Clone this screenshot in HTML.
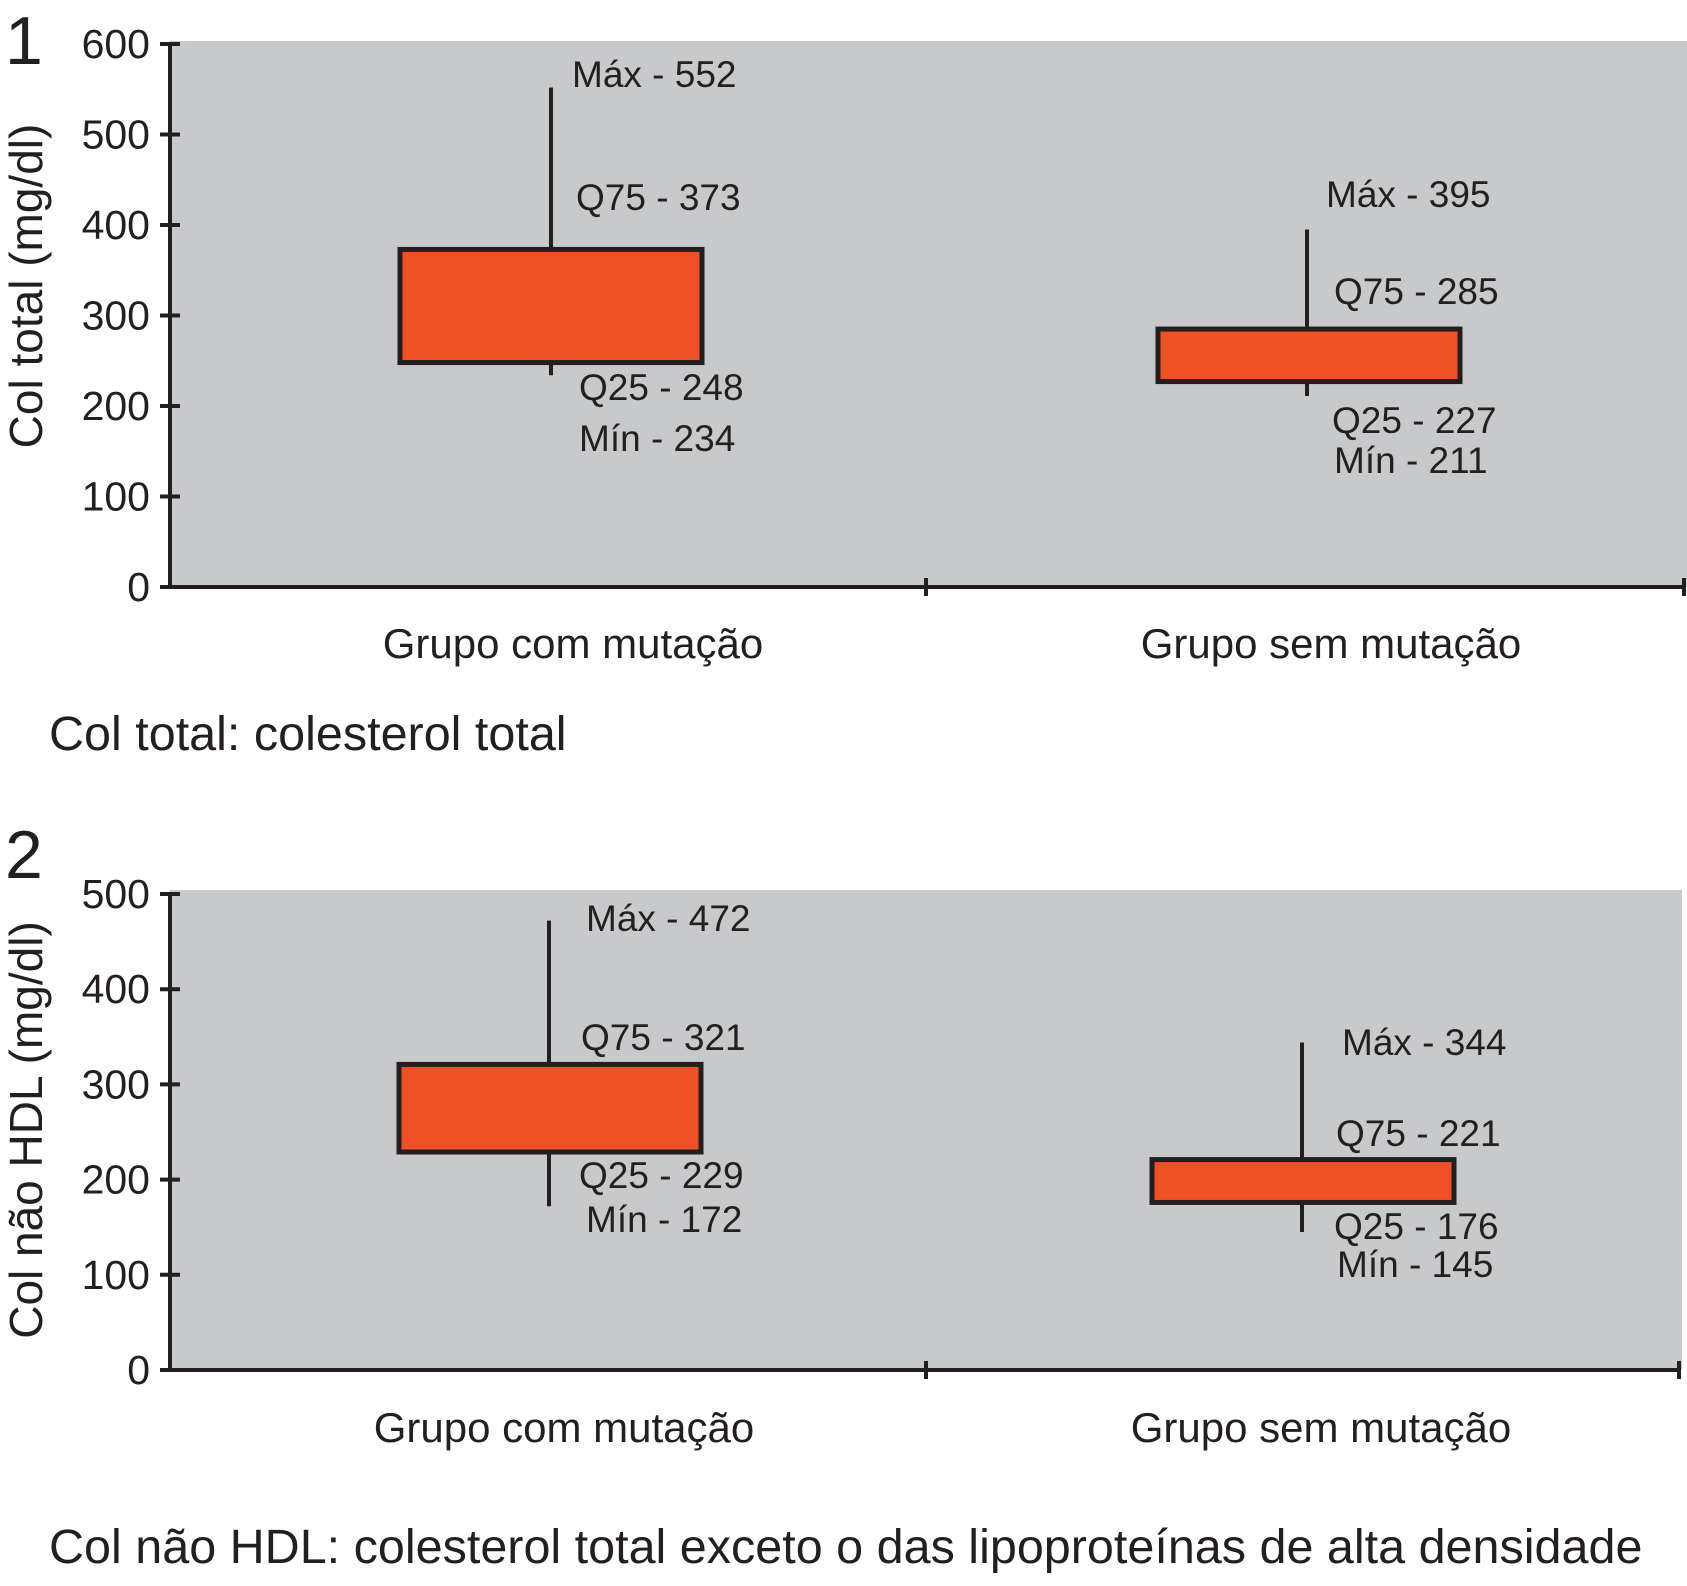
<!DOCTYPE html>
<html><head><meta charset="utf-8"><style>
html,body{margin:0;padding:0;background:#fff;}
svg{display:block;font-family:"Liberation Sans",Arial,sans-serif;}
</style></head><body>
<svg id="fig" width="1687" height="1586" viewBox="0 0 1687 1586" xmlns="http://www.w3.org/2000/svg"></svg>
<script>
const categories = ["Grupo com mutação", "Grupo sem mutação"];
const c1Min = [234, 211];
const c1Q25 = [248, 227];
const c1Q75 = [373, 285];
const c1Max = [552, 395];
const c1Ticks = [0, 100, 200, 300, 400, 500, 600];
const c2Min = [172, 145];
const c2Q25 = [229, 176];
const c2Q75 = [321, 221];
const c2Max = [472, 344];
const c2Ticks = [0, 100, 200, 300, 400, 500];

const NS = "http://www.w3.org/2000/svg";
const svg = document.getElementById('fig');
function mk(tag, attrs, parent){
  const e = document.createElementNS(NS, tag);
  for (const k in attrs) e.setAttribute(k, attrs[k]);
  (parent||svg).appendChild(e);
  return e;
}

function chart(cfg){
  const g = mk('g', {});
  
  
  const yMax = cfg.ticks[cfg.ticks.length-1];
  const y = v => cfg.y0 - (v / yMax) * (cfg.y0 - cfg.yTop);
  const bg = mk('rect', {x: cfg.axX, y: cfg.bgTop, width: cfg.bgRight - cfg.axX, height: cfg.y0 - cfg.bgTop, fill: '#c8c9cb'}, g);
  
  
  const ya = mk('line', {x1: cfg.axX, y1: y(yMax), x2: cfg.axX, y2: cfg.y0 + 2, stroke: '#231f20', 'stroke-width': 4}, g);
  
  
  cfg.ticks.forEach(t => {
    const tk = mk('line', {x1: cfg.axX - 10, y1: y(t), x2: cfg.axX + 10, y2: y(t), stroke: '#231f20', 'stroke-width': 4}, g);
    
    
    const tl = mk('text', {x: cfg.axX - 20, y: y(t) + 14, 'text-anchor': 'end', 'font-size': 41, fill: '#231f20'}, g);
    tl.textContent = t;
    
    
  });
  const xa = mk('line', {x1: cfg.axX, y1: cfg.y0, x2: cfg.axRight, y2: cfg.y0, stroke: '#231f20', 'stroke-width': 4}, g);
  
  
  [cfg.midX, cfg.axRight].forEach(xx => {
    const tk = mk('line', {x1: xx, y1: cfg.y0 - 9, x2: xx, y2: cfg.y0 + 9, stroke: '#231f20', 'stroke-width': 4}, g);
    
    
  });
  const yt = mk('text', {x: 0, y: 0, 'text-anchor': 'middle', 'font-size': 46, fill: '#231f20', transform: `translate(${cfg.titleX},${cfg.titleY}) rotate(-90)`}, g);
  yt.textContent = cfg.yTitle;
  
  
  const pn = mk('text', {x: 5, y: cfg.numY, 'font-size': 68, fill: '#231f20'}, g);
  pn.textContent = cfg.num;
  
  
  categories.forEach((c, i) => {
    const cx = cfg.whiskerX[i];
    const w = mk('line', {x1: cx, y1: y(cfg.max[i]), x2: cx, y2: y(cfg.min[i]), stroke: '#231f20', 'stroke-width': 4}, g);
    
    
    const b = mk('rect', {x: cfg.boxX[i], y: y(cfg.q75[i]), width: 302, height: y(cfg.q25[i]) - y(cfg.q75[i]), fill: '#ef5125', stroke: '#231f20', 'stroke-width': 5}, g);
    
    
    const labs = [['Máx - ', cfg.max[i]], ['Q75 - ', cfg.q75[i]], ['Q25 - ', cfg.q25[i]], ['Mín - ', cfg.min[i]]];
    labs.forEach((l, j) => {
      const p = cfg.labPos[i][j];
      const t = mk('text', {x: p[0], y: p[1] + 13, 'font-size': 37, fill: '#231f20'}, g);
      t.textContent = l[0] + l[1];
      
      
    });
    const cl = mk('text', {x: cfg.catX[i], y: cfg.catY + 14, 'text-anchor': 'middle', 'font-size': 42, fill: '#231f20'}, g);
    cl.textContent = c;
    
    
  });
  const cap = mk('text', {x: 49, y: cfg.capY + 17, 'font-size': 48.5, fill: '#231f20'}, g);
  cap.textContent = cfg.caption;
  
  
}

chart({name: 'chart-col-total', ticks: c1Ticks, min: c1Min, q25: c1Q25, q75: c1Q75, max: c1Max,
  axX: 170, axRight: 1684, midX: 926, bgTop: 41, bgRight: 1687, y0: 587, yTop: 44,
  whiskerX: [551, 1307], boxX: [400, 1158],
  labPos: [[[572,74],[576,197],[579,387],[579,438]], [[1326,194],[1334,291],[1332,420],[1334,460]]],
  catX: [573, 1331], catY: 644, titleX: 42, titleY: 286, yTitle: 'Col total (mg/dl)',
  num: '1', numY: 64, capY: 733, caption: 'Col total: colesterol total'});

chart({name: 'chart-col-nao-hdl', ticks: c2Ticks, min: c2Min, q25: c2Q25, q75: c2Q75, max: c2Max,
  axX: 170, axRight: 1679, midX: 926, bgTop: 890, bgRight: 1682, y0: 1370, yTop: 894,
  whiskerX: [549, 1302], boxX: [399, 1152],
  labPos: [[[586,918],[581,1037],[579,1175],[586,1219]], [[1342,1042],[1336,1133],[1334,1226],[1337,1264]]],
  catX: [564, 1321], catY: 1428, titleX: 42, titleY: 1130, yTitle: 'Col não HDL (mg/dl)',
  num: '2', numY: 878, capY: 1546, caption: 'Col não HDL: colesterol total exceto o das lipoproteínas de alta densidade'});
</script>
</body></html>
